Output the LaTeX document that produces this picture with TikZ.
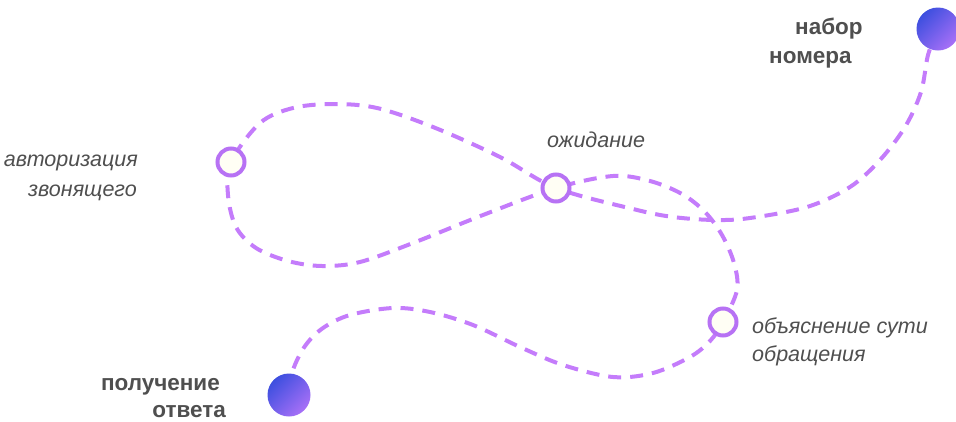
\documentclass[tikz,border=0pt]{standalone}
\usepackage{fontspec}
\setmainfont{Liberation Sans}
\definecolor{routec}{HTML}{C47CFB}
\definecolor{ringc}{HTML}{B772F4}
\definecolor{ringfill}{HTML}{FFFEF4}
\definecolor{dotA}{HTML}{3D4FDF}
\definecolor{dotB}{HTML}{A870F7}
\definecolor{labelc}{HTML}{4F4F4F}
\tikzset{
  route/.style={draw=routec, line width=4pt, dash pattern=on 13pt off 9pt},
  ring/.style={circle, draw=ringc, line width=4pt, fill=ringfill, minimum size=27pt, inner sep=0pt},
  enddot/.style={circle, minimum size=43pt, inner sep=0pt, left color=dotA, right color=dotB, shading angle=45},
  steplabel/.style={font=\fontsize{21.5}{25}\selectfont\itshape, text=labelc, inner sep=0pt},
  endlabel/.style={font=\fontsize{22.5}{26}\selectfont\bfseries, text=labelc, inner sep=0pt},
}
\begin{document}
\begin{tikzpicture}[x=1pt, y=-1pt]
\useasboundingbox (0,0) rectangle (956,421);

% stops along the route
\coordinate (start) at (938,29);
\coordinate (auth)  at (231,162);
\coordinate (wait)  at (556,188);
\coordinate (expl)  at (723,322);
\coordinate (finish) at (289,395);

% the dashed route: dial, wait, loop through authorisation, back through wait, explain, answer
\draw[route] plot[smooth, tension=0.55] coordinates {
  (start) (928,55) (921,92) (905,127) (880,160) (850,187) (807,207) (750,218)
  (715,220) (673,217) (633,209) (wait)
  (500,157) (433,127) (377,108) (333,104) (293,108) (260,123) (auth)
  (228,195) (236,227) (256,248) (288,261) (322,266) (360,262) (413,243) (483,215) (wait)
  (613,176) (650,181) (682,194) (705,212) (722,235) (734,263) (737,290) (expl)
  (710,341) (690,357) (653,373) (613,377) (563,365) (520,347) (473,325) (430,312)
  (393,308) (350,315) (323,328) (305,346) (293,370) (finish)
};

% markers
\node[enddot] (dialdot) at (start) {};
\node[enddot] (answerdot) at (finish) {};
\node[ring] (authring) at (auth) {};
\node[ring] (waitring) at (wait) {};
\node[ring] (explring) at (expl) {};

% labels
\node[endlabel, anchor=base west] (dial1) at (795,34) {набор};
\node[endlabel, anchor=base west] (dial2) at (769,63) {номера};
\node[steplabel, anchor=base east] (auth1) at (138,166) {авторизация};
\node[steplabel, anchor=base east] (auth2) at (137,196) {звонящего};
\node[steplabel, anchor=base west] (wait1) at (547,147) {ожидание};
\node[steplabel, anchor=base west] (expl1) at (752,333) {объяснение сути};
\node[steplabel, anchor=base west] (expl2) at (752,361) {обращения};
\node[endlabel, anchor=base east] (ans1) at (220,390) {получение};
\node[endlabel, anchor=base east] (ans2) at (226,417) {ответа};
\end{tikzpicture}
\end{document}
